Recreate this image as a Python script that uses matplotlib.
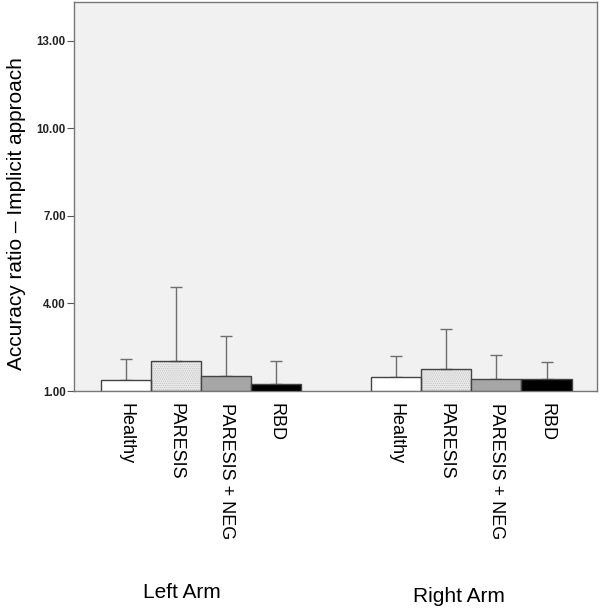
import matplotlib
matplotlib.use("Agg")
import matplotlib.pyplot as plt
from matplotlib.transforms import blended_transform_factory

plt.rcParams['font.family'] = ['Liberation Sans', 'DejaVu Sans']
plt.rcParams['hatch.linewidth'] = 0.6

groups = ["Left Arm", "Right Arm"]
categories = ["Healthy", "PARESIS", "PARESIS + NEG", "RBD"]
means = {
    "Left Arm": [1.38, 2.03, 1.52, 1.23],
    "Right Arm": [1.47, 1.77, 1.40, 1.40],
}
upper = {
    "Left Arm": [2.11, 4.58, 2.88, 2.04],
    "Right Arm": [2.19, 3.11, 2.23, 2.01],
}
yticks = [1.0, 4.0, 7.0, 10.0, 13.0]

facecolors = ["#ffffff", "#ececec", "#a6a6a6", "#000000"]
hatches = [None, "........", None, None]

fig = plt.figure(figsize=(6.0, 6.08), dpi=100)
ax = fig.add_axes([74/600, 1 - 391/608, (597-74)/600, (391-2)/608])
ax.set_facecolor("#f1f1f1")

group_offset = 5.385
xs_all, labels_all = [], []
for g, grp in enumerate(groups):
    for i, cat in enumerate(categories):
        x = g * group_offset + i
        m = means[grp][i]
        u = upper[grp][i]
        if hatches[i]:
            ax.bar(x, m - 1.0, bottom=1.0, width=1.0, color=facecolors[i],
                   hatch=hatches[i], edgecolor="#c0c0c0", linewidth=0, zorder=2)
            ax.bar(x, m - 1.0, bottom=1.0, width=1.0, fill=False,
                   edgecolor="#444444", linewidth=1.0, zorder=3)
        else:
            ax.bar(x, m - 1.0, bottom=1.0, width=1.0, color=facecolors[i],
                   edgecolor="#444444", linewidth=1.0, zorder=3)
        ax.errorbar([x], [m], yerr=[[0], [u - m]], fmt="none",
                    ecolor="#6e6e6e", elinewidth=1.0, capsize=4.3,
                    capthick=1.0, zorder=2.5)
        xs_all.append(x)
        labels_all.append(cat)

ax.set_xlim(-1.03, 9.39)
ax.set_ylim(1.0, 14.33)
ax.set_yticks(yticks)
ax.set_yticklabels([f"{v:.2f}" for v in yticks], fontsize=8.3, fontweight="bold",
                   color="#222222")
ax.tick_params(axis="y", length=5, width=0.8, color="#555555", pad=1)
ax.set_xticks(xs_all)
ax.set_xticklabels(labels_all, rotation=-90, fontsize=13, va="top", ha="center")
ax.tick_params(axis="x", length=0, pad=8.6)

for sp in ax.spines.values():
    sp.set_color("#777777")
    sp.set_linewidth(1.0)

trans = blended_transform_factory(ax.transData, fig.transFigure)
ax.text(1.12, 1 - 593/608, groups[0], transform=trans, ha="center",
        va="center", fontsize=15)
ax.text(6.64, 1 - 597/608, groups[1], transform=trans, ha="center",
        va="center", fontsize=15)

fig.text(17/600, 1 - 214/608, "Accuracy ratio \u2013 Implicit approach",
         rotation=90, ha="center", va="center", fontsize=15)

fig.savefig("out.png", dpi=100)
